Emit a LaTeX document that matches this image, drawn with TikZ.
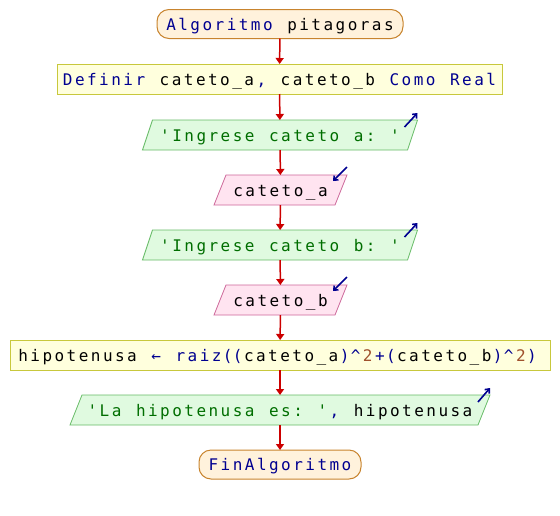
\documentclass[tikz,border=0pt]{standalone}
\usepackage{fontspec}
\setmonofont{DejaVu Sans Mono}
\usetikzlibrary{arrows.meta,calc}
\pgfdeclarelayer{background}
\pgfsetlayers{background,main}

\definecolor{kwblue}{HTML}{000090}
\definecolor{strgreen}{HTML}{006E00}
\definecolor{numbrown}{HTML}{A0522D}
\definecolor{flowred}{HTML}{CC0000}
\definecolor{termfill}{HTML}{FFF2DC}
\definecolor{termline}{HTML}{C8842E}
\definecolor{procfill}{HTML}{FFFFDD}
\definecolor{procline}{HTML}{C8C83C}
\definecolor{outfill}{HTML}{E0FAE0}
\definecolor{outline}{HTML}{66BB66}
\definecolor{infill}{HTML}{FFE4F0}
\definecolor{inline}{HTML}{CC6699}

% fixed-pitch code text: every character sits in a cell of its own
\newlength\monopitch \setlength\monopitch{12.1pt}
\newlength\parenpitch \setlength\parenpitch{10pt}
\ExplSyntaxOn
\NewDocumentCommand\mono{m}{
  \str_map_inline:nn {#1}
    {
      \str_case:nnF {##1}
        {
          {(} { \makebox[\parenpitch]{##1} }
          {)} { \makebox[\parenpitch]{##1} }
        }
        { \makebox[\monopitch]{##1} }
    }
}
\ExplSyntaxOff
\newcommand\pl[1]{\mono{#1}}
\newcommand\kw[1]{\textcolor{kwblue}{\mono{#1}}}
\newcommand\st[1]{\textcolor{strgreen}{\mono{#1}}}
\newcommand\nm[1]{\textcolor{numbrown}{\mono{#1}}}

% parallelogram drawn behind a plain node: #1 node, #2 half slant, #3 style
\newcommand\slantbox[3]{%
  \begin{pgfonlayer}{background}
    \path[#3] ($(#1.north west)+(#2,0)$) -- ($(#1.north east)+(#2,0)$)
      -- ($(#1.south east)-(#2,0)$) -- ($(#1.south west)-(#2,0)$) -- cycle;
  \end{pgfonlayer}}

\begin{document}
\begin{tikzpicture}[x=1pt,y=-1pt,
  every node/.style={font=\ttfamily\fontsize{16}{19}\selectfont, inner sep=0pt, outer sep=0pt, text height=12pt, text depth=0pt},
  term/.style={draw=termline, fill=termfill, line width=1pt, rounded corners=12pt, minimum height=29pt},
  proc/.style={draw=procline, fill=procfill, line width=1pt, minimum height=30pt},
  io/.style={minimum height=30pt},
  outshape/.style={draw=outline, fill=outfill, line width=0.8pt},
  inshape/.style={draw=inline, fill=infill, line width=0.8pt},
  flow/.style={draw=flowred, line width=1.5pt, -{Triangle[width=8pt,length=6pt]}},
  ioarrow/.style={draw=kwblue, line width=1.6pt, -{Straight Barb[length=3.5pt,width=6pt]}}
]
\useasboundingbox (0,0) rectangle (560,515);

\node[term, minimum width=246pt] (start) at (280,24) {\kw{Algoritmo }\pl{pitagoras}};
\node[proc, minimum width=445pt] (def) at (279.5,79) {\kw{Definir }\pl{cateto_a}\kw{,}\pl{ cateto_b }\kw{Como Real}};
\node[io, minimum width=265pt] (out1) at (280,135) {\st{'Ingrese cateto a: '}};
\node[io, minimum width=121pt] (ina) at (280.5,190) {\pl{cateto_a}};
\node[io, minimum width=265pt] (out2) at (280,245) {\st{'Ingrese cateto b: '}};
\node[io, minimum width=121pt] (inb) at (280.5,300) {\pl{cateto_b}};
\node[proc, minimum width=540pt] (calc) at (280,355) {\pl{hipotenusa }\kw{← raiz((}\pl{cateto_a}\kw{)^}\nm{2}\kw{+(}\pl{cateto_b}\kw{)^}\nm{2}\kw{)}\kern6pt};
\node[io, minimum width=408pt] (out3) at (280,410) {\st{'La hipotenusa es: '}\kw{,}\pl{ hipotenusa}};
\node[term, minimum width=162pt] (fin) at (280,464.5) {\kw{FinAlgoritmo}};

\slantbox{out1}{5}{outshape}
\slantbox{out2}{5}{outshape}
\slantbox{out3}{6}{outshape}
\slantbox{ina}{6}{inshape}
\slantbox{inb}{6}{inshape}

% read / write markers
\draw[ioarrow] ($(out1.north east)+(5,0)+(-13,7)$) -- ($(out1.north east)+(5,0)+(0,-7)$);
\draw[ioarrow] ($(out2.north east)+(5,0)+(-13,7)$) -- ($(out2.north east)+(5,0)+(0,-7)$);
\draw[ioarrow] ($(out3.north east)+(6,0)+(-12,7)$) -- ($(out3.north east)+(6,0)+(0,-7)$);
\draw[ioarrow] ($(ina.north east)+(6,0)+(0,-8)$) -- ($(ina.north east)+(6,0)+(-14,6)$);
\draw[ioarrow] ($(inb.north east)+(6,0)+(0,-8)$) -- ($(inb.north east)+(6,0)+(-14,6)$);

% control flow
\draw[flow] (start) -- (def);
\draw[flow] (def) -- (out1);
\draw[flow] (out1) -- (ina);
\draw[flow] (ina) -- (out2);
\draw[flow] (out2) -- (inb);
\draw[flow] (inb) -- (calc);
\draw[flow] (calc) -- (out3);
\draw[flow] (out3) -- (fin);
\end{tikzpicture}
\end{document}
